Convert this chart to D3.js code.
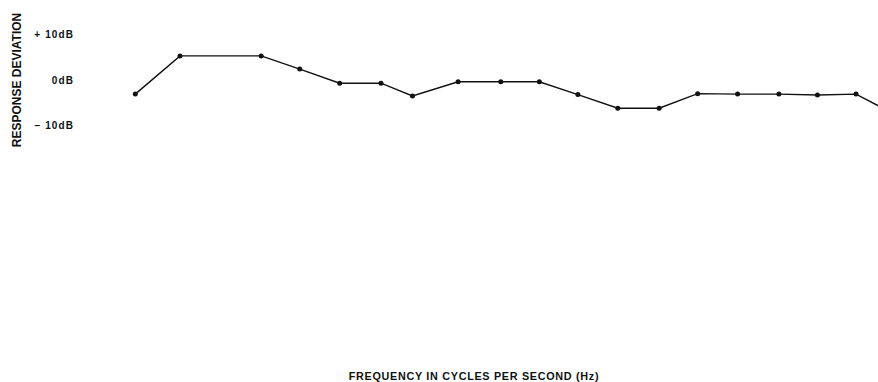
<!DOCTYPE html>
<html>
<head>
<meta charset="utf-8">
<script src="https://cdn.jsdelivr.net/npm/d3@7"></script>
<style>
  body { margin: 0; background: #fff; }
  svg { display: block; }
  text { font-family: "Liberation Sans", Arial, Helvetica, sans-serif; font-weight: bold; fill: #111; }
</style>
</head>
<body>
<script>
// response deviation readings
var freqs = [19.3, 25, 40, 50, 63, 80, 96, 125, 160, 200, 250, 315, 400, 500, 630, 800, 1000, 1250, 1600];
var devs  = [-3.1, 5.3, 5.3, 2.4, -0.7, -0.7, -3.5, -0.4, -0.4, -0.4, -3.2, -6.2, -6.2, -3.0, -3.1, -3.1, -3.3, -3.1, -8.0];
var yTicks = [10, 0, -10];
var yTickLabels = ["+ 10dB", "0dB", "\u2013 10dB"];

var width = 878,
    height = 382;

var svg = d3.select("body").append("svg")
    .attr("width", width)
    .attr("height", height);

var x = d3.scaleLog()
    .domain([25, 1250])
    .range([180, 856]);

var y = d3.scaleLinear()
    .domain([-10, 10])
    .range([125.5, 34.5]);

var data = freqs.map(function(f, i) { return {f: f, v: devs[i]}; });

// y axis labels only, no line or ticks
var yAxis = svg.append("g")
    .attr("transform", "translate(74,0)")
    .call(d3.axisLeft(y)
        .tickValues(yTicks)
        .tickSize(0)
        .tickPadding(0)
        .tickFormat(function(d, i) { return yTickLabels[i]; }));
yAxis.select(".domain").remove();
yAxis.selectAll("text")
    .attr("font-size", 10)
    .attr("letter-spacing", 1.1)
    .attr("fill", "#111")
    .style("font-family", "'Liberation Sans', Arial, sans-serif");

// y-axis title
svg.append("text")
    .attr("transform", "translate(21,80) rotate(-90)")
    .attr("text-anchor", "middle")
    .attr("font-size", 12)
    .text("RESPONSE DEVIATION");

// x-axis title
svg.append("text")
    .attr("x", 474)
    .attr("y", 380)
    .attr("text-anchor", "middle")
    .attr("font-size", 10.8)
    .attr("letter-spacing", 0.7)
    .text("FREQUENCY IN CYCLES PER SECOND (Hz)");

var line = d3.line()
    .x(function(d) { return x(d.f); })
    .y(function(d) { return y(d.v); });

svg.append("path")
    .datum(data)
    .attr("fill", "none")
    .attr("stroke", "#111")
    .attr("stroke-width", 1.4)
    .attr("d", line);

svg.append("g")
    .selectAll("circle")
    .data(data)
    .enter().append("circle")
    .attr("cx", function(d) { return x(d.f); })
    .attr("cy", function(d) { return y(d.v); })
    .attr("r", 2.5)
    .attr("fill", "#111");
</script>
</body>
</html>
